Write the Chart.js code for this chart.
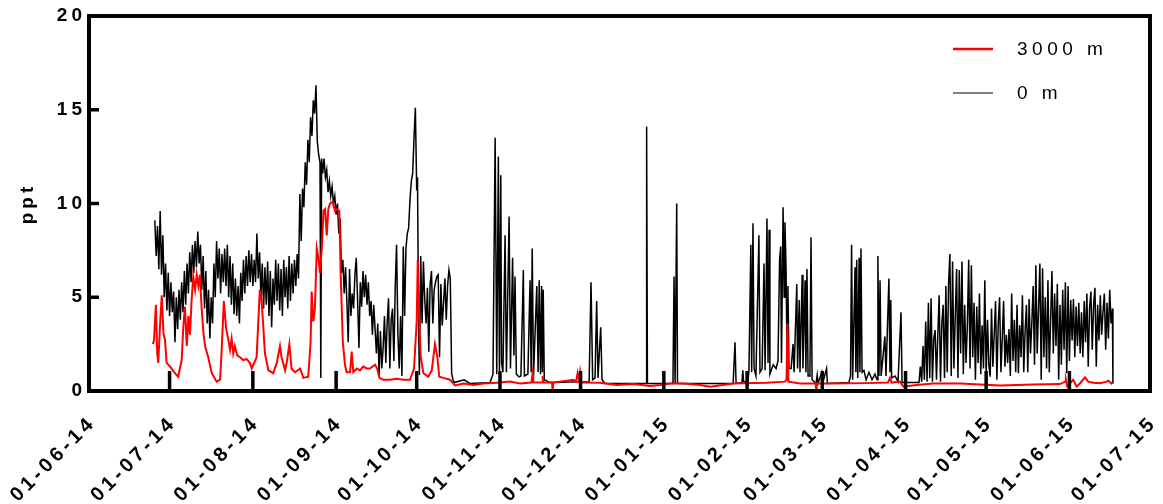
<!DOCTYPE html>
<html>
<head>
<meta charset="utf-8">
<script src="https://cdn.jsdelivr.net/npm/chart.js@4.4.1/dist/chart.umd.min.js"></script>
<style>
  html, body { margin: 0; padding: 0; background: #fff; }
  #chart { display: block; }
</style>
</head>
<body>
<canvas id="chart" width="1163" height="504"></canvas>
<script>
// x values are days since 01-06-14, y values in ppt
const tickDays = [0, 30, 61, 92, 122, 153, 183, 214, 245, 273, 304, 334, 365, 395];
const tickLabels = ['01-06-14', '01-07-14', '01-08-14', '01-09-14', '01-10-14', '01-11-14', '01-12-14',
    '01-01-15', '01-02-15', '01-03-15', '01-04-15', '01-05-15', '01-06-15', '01-07-15'];
const yTicks = [0, 5, 10, 15, 20];

// 0 m, June - October (dense)
const zeroSummer = [
    [24.5,9.1],[25,7.2],[25.5,8.8],[26,6.5],[26.5,9.6],[27,6.2],[27.5,8.3],[28,5.0],[28.5,6.8],[29,4.3],
    [29.5,6.3],[30,4.0],[30.5,5.8],[31,4.2],[31.5,5.3],[32,2.6],[32.5,5.0],[33,3.3],[33.5,5.4],[34,3.8],
    [34.5,5.8],[35,4.2],[35.5,6.4],[36,4.6],[36.5,6.8],[37,5.2],[37.5,7.4],[38,5.8],[38.5,7.8],[39,6.3],
    [39.5,8.0],[40,6.6],[40.5,8.5],[41,6.8],[41.5,7.8],[42,5.4],[42.5,7.2],[43,4.4],[43.5,6.4],[44,3.6],
    [44.5,5.4],[45,2.8],[45.5,5.0],[46,3.6],[46.5,6.8],[47,5.0],[47.5,8.0],[48,6.0],[48.5,7.6],[49,5.2],
    [49.5,7.3],[50,5.8],[50.5,7.6],[51,5.6],[51.5,7.8],[52,5.0],[52.5,7.2],[53,4.6],[53.5,6.8],[54,4.1],
    [54.5,6.0],[55,4.0],[55.5,5.6],[56,3.6],[56.5,6.3],[57,4.8],[57.5,7.0],[58,5.2],[58.5,7.2],[59,5.6],
    [59.5,7.5],[60,5.8],[60.5,7.3],[61,5.6],[61.5,7.0],[62,5.8],[62.5,8.4],[63,6.0],[63.5,7.4],[64,5.0],
    [64.5,6.8],[65,4.4],[65.5,6.6],[66,4.6],[66.5,6.9],[67,4.0],[67.5,6.4],[68,3.4],[68.5,6.0],[69,4.6],
    [69.5,7.0],[70,4.8],[70.5,6.8],[71,4.3],[71.5,6.5],[72,4.0],[72.5,7.0],[73,5.0],[73.5,6.6],[74,4.4],
    [74.5,7.2],[75,4.8],[75.5,6.8],[76,5.2],[76.5,7.0],[77,5.6],[77.5,7.3],[78,6.0],[78.5,10.5],[79,8.0],
    [79.5,10.8],[80,9.8],[80.5,12.2],[81,11.0],[81.5,13.4],[82,12.2],[82.5,14.6],[83,13.6],[83.5,15.5],[84,14.8],
    [84.5,16.3],[85,13.3],[85.5,12.6],[86,12.2],[86.3,0.7],[86.6,12.4],[87,11.6],[87.5,12.4],[88,11.4],[88.5,11.8],
    [89,10.6],[89.5,11.2],[90,10.4],[90.5,10.9],[91,10.0],[91.5,10.4],[92,9.4],[92.5,10.0],[93,8.4],[93.5,9.2],
    [94,6.3],[94.5,7.0],[95,5.2],[95.5,6.6],[96,4.8],[96.5,2.6],[97,6.5],[97.5,4.0],[98,5.2],[98.5,4.4],
    [99,6.2],[99.5,7.1],[100,4.8],[100.5,2.3],[101,5.8],[101.5,4.5],[102,6.4],[102.5,5.0],[103,6.2],[103.5,4.6],
    [104,5.8],[104.5,4.0],[105,4.8],[105.5,3.0],[106,4.6],[106.5,3.3],[107,2.0],[107.5,3.6],[108,0.85],[108.5,3.2],
    [109,1.2],[109.5,2.3],[110,4.0],[110.5,1.5],[111,3.6],[111.5,4.95],[112,1.2],[112.5,3.8],[113,4.4],[113.5,1.6],
    [114,5.5],[114.5,7.8],[115,3.0],[115.5,1.2],[116,4.0],[116.5,0.8],[117,7.7],[117.5,4.0],[118,7.6],[118.5,8.4],
    [119,8.7],[119.5,10.2],[120,11.2],[120.5,11.6],[121,13.5],[121.5,15.1],[122,10.7],[122.3,11.4],[122.7,3.6],[123,0.85],
    [123.5,7.2],[124,3.6],[124.5,6.9],[125,4.85],[125.5,3.6],[126,5.5],[126.5,2.1],[127,5.7],[127.5,6.4],[128,3.6],
    [128.5,5.4],[129,5.8],[129.5,6.1],[130,6.2],[130.5,1.8],[131,5.7],[131.5,3.5],[132,4.7],[132.5,6.0],[133,3.8],
    [133.5,5.6],[134,6.45],[134.5,6.0],[135,0.95],[135.5,0.6],[136,0.45]
];

// 0 m, November - March (isolated spikes)
const zeroWinter = [
    [139.6,0.6],[141.8,0.4],[149.3,0.45],[150.4,0.9],[151.2,13.5],[151.8,0.9],[152.4,12.5],[152.8,1.0],[153.3,11.5],
    [153.6,1.5],[154.1,1.0],[154.9,8.3],[155.4,1.0],[156.4,9.3],[156.9,1.2],[157.7,7.1],[158.2,1.9],[158.6,6.1],
    [159.1,0.9],[160.1,0.75],[160.8,0.8],[161.7,6.45],[162.1,0.8],[163.4,0.9],[164.2,5.9],[164.6,1.0],[165.0,7.6],
    [165.5,0.8],[166.7,5.6],[167.2,1.0],[167.6,5.9],[168.1,0.9],[168.5,5.6],[168.8,1.0],[169.1,5.4],[169.5,0.6],
    [171.6,0.45],[186.2,0.5],[186.9,5.8],[187.5,0.6],[188.4,0.7],[189.0,4.8],[189.5,0.7],[190.5,3.4],[191.0,0.6],
    [192.1,0.4],[207.4,0.4],[207.6,14.1],[207.9,0.4],[217.4,0.4],[217.8,6.1],[218.2,0.4],[218.8,10.0],[219.1,0.4],
    [239.8,0.4],[240.5,2.6],[240.9,0.4],[243.1,0.45],[243.4,1.1],[243.7,0.5],[245.3,0.5],[245.7,1.1],[246.4,7.8],
    [246.7,1.0],[247.2,8.95],[247.6,1.2],[248.3,0.8],[249.4,8.3],[249.8,1.0],[250.6,1.2],[251.3,6.8],[251.7,1.1],
    [252.4,9.2],[252.8,1.5],[253.2,8.6],[253.5,0.9],[254.7,1.4],[255.8,1.2],[256.5,1.6],[257.1,7.0],[257.5,7.7],
    [257.8,1.5],[258.4,9.8],[258.8,5.0],[259.1,9.0],[259.5,6.6],[259.9,1.5],[260.2,5.6],[260.6,1.2],[261.4,1.2],
    [262.1,2.5],[262.5,1.0],[263.5,5.7],[263.8,1.2],[264.4,4.85],[264.7,1.0],[265.5,6.2],[265.8,1.2],[266.6,5.9],
    [266.9,1.0],[267.3,6.5],[267.7,0.8],[268.4,0.8],[268.8,8.2],[269.2,0.6],[270.7,0.4],[271.1,0.85],[271.4,0.4],
    [272.8,1.0],[273.1,0.4],[274.6,1.2],[274.9,0.4],[282.9,0.45],[283.5,0.8],[283.9,7.8],[284.3,0.6],[285.2,6.6],
    [285.5,1.0],[285.8,7.0],[286.2,0.7],[286.7,7.1],[287.0,1.0],[287.4,7.6],[287.8,1.0],[288.5,1.1],[289.3,0.6],
    [290.4,1.0],[291.5,0.6],[292.6,0.9],[293.4,0.6],[293.7,7.2],[294.1,0.8],[294.5,5.9],[294.9,0.8],[296.3,2.9],
    [296.7,0.8],[297.8,6.0],[298.2,1.0],[298.5,4.85],[298.8,0.7],[300.1,0.8],[301.2,0.5],[302.3,4.2],[302.7,0.45],
    [308.6,0.45]
];

// 0 m, April - June (dense)
const zeroSpring = [
    [309,0.45],[309.5,1.3],[310,0.5],[310.5,2.4],[311,0.6],[311.5,3.7],[312,0.5],[312.5,4.7],[313,0.7],[313.5,4.95],
    [314,0.5],[314.5,2.8],[315,3.25],[315.5,0.6],[316,3.0],[316.5,5.1],[317,0.5],[317.5,3.6],[318,4.6],[318.5,0.7],
    [319,5.6],[319.5,1.0],[320,5.7],[320.5,7.3],[321,0.8],[321.5,6.9],[322,1.2],[322.5,4.0],[323,6.5],[323.5,0.7],
    [324,6.45],[324.5,2.0],[325,6.9],[325.5,0.9],[326,4.6],[326.5,1.5],[327,3.5],[327.5,7.0],[328,1.2],[328.5,6.7],
    [329,1.8],[329.5,4.7],[330,0.6],[330.5,4.5],[331,1.5],[331.5,5.2],[332,0.9],[332.5,3.5],[333,1.2],[333.5,5.9],
    [334,0.8],[334.5,3.8],[335,1.4],[335.5,0.76],[336,4.4],[336.5,1.3],[337,3.0],[337.5,4.8],[338,0.6],[338.5,3.6],
    [339,5.0],[339.5,1.0],[340,2.8],[340.5,4.8],[341,1.3],[341.5,3.0],[342,1.5],[342.5,3.3],[343,0.8],[343.5,5.2],
    [344,1.6],[344.5,3.8],[345,1.0],[345.5,4.6],[346,0.95],[346.5,3.5],[347,1.8],[347.5,5.1],[348,1.0],[348.5,3.2],
    [349,4.6],[349.5,1.0],[350,4.9],[350.5,2.0],[351,3.6],[351.5,5.6],[352,1.4],[352.5,6.7],[353,2.0],[353.5,4.4],
    [354,6.8],[354.5,0.6],[355,6.55],[355.5,1.8],[356,5.0],[356.5,1.2],[357,5.9],[357.5,1.0],[358,3.8],[358.5,6.4],
    [359,2.0],[359.5,5.2],[360,2.4],[360.5,5.7],[361,0.6],[361.5,4.6],[362,1.4],[362.5,5.4],[363,2.2],[363.5,5.8],
    [364,0.95],[364.5,5.6],[365,1.6],[365.5,4.85],[366,2.7],[366.5,4.9],[367,1.8],[367.5,4.5],[368,2.4],[368.5,4.7],
    [369,2.0],[369.5,4.2],[370,1.8],[370.5,4.8],[371,2.6],[371.5,5.2],[372,1.3],[372.5,4.4],[373,5.3],[373.5,2.2],
    [374,4.6],[374.5,5.5],[375,1.3],[375.5,4.6],[376,2.7],[376.5,5.1],[377,3.0],[377.5,4.2],[378,5.2],[378.5,2.2],
    [379,4.7],[379.5,2.8],[380,5.4],[380.5,3.6],[381,4.4],[381.2,0.4]
];

// 3000 m, June - October
const deepSummer = [
    [23.8,2.5],[24.2,2.7],[24.9,4.6],[25.4,2.0],[25.8,1.5],[26.4,3.4],[27.1,5.1],[27.7,3.1],[28.3,2.7],[28.9,1.5],
    [30.2,1.3],[32.0,0.95],[33.2,0.76],[34.5,1.65],[35.1,3.4],[35.7,4.5],[36.4,2.4],[37.0,4.0],[37.6,3.0],[38.2,4.85],
    [38.8,6.1],[39.5,5.4],[40.1,6.2],[40.7,5.6],[41.3,6.2],[41.9,4.5],[42.6,3.1],[43.2,2.4],[44.4,1.8],[45.7,0.95],
    [47.5,0.5],[48.8,0.6],[49.4,2.2],[50.2,4.8],[51.0,3.4],[51.9,2.7],[52.5,2.2],[53.1,2.8],[53.7,2.0],[54.3,2.4],
    [55.2,1.9],[56.2,1.8],[57.4,1.65],[58.7,1.7],[59.9,1.5],[60.6,1.2],[61.2,1.4],[62.4,1.8],[63.0,3.6],[63.6,5.4],
    [64.3,4.7],[64.9,3.4],[65.5,2.0],[66.8,1.1],[68.6,0.95],[69.9,1.5],[71.1,2.4],[71.7,1.8],[73.0,1.1],[73.7,1.6],
    [74.6,2.5],[75.4,1.2],[76.7,1.0],[78.6,1.2],[79.8,0.7],[81.6,0.76],[82.5,2.6],[82.9,5.3],[83.5,3.7],[84.1,4.4],
    [84.8,7.6],[85.4,7.1],[86.0,6.3],[86.7,7.7],[87.3,9.6],[87.9,9.7],[88.5,8.3],[89.1,9.7],[89.7,10.0],[90.7,10.1],
    [91.6,9.6],[92.2,9.7],[93.2,9.6],[93.7,6.2],[94.5,2.6],[95.3,1.4],[95.9,1.0],[97.2,1.0],[97.8,2.1],[98.4,1.0],
    [99.7,1.2],[100.9,1.1],[102.1,1.3],[103.4,1.2],[104.6,1.2],[106.5,1.4],[107.3,1.2],[108.1,0.7],[109.5,0.6],
    [112.1,0.6],[114.6,0.65],[117.0,0.6],[119.5,0.6],[121.0,1.2],[122.0,3.7],[122.4,7.0],[123.0,3.6],[123.5,1.8],
    [124.5,0.95],[126.3,0.76],[127.6,1.1],[128.2,1.8],[128.8,2.5],[129.7,1.8],[130.4,0.76],[131.9,0.7],[134.4,0.6]
];

// 3000 m, October - June
const deepRest = [
    [136.3,0.3],[139.4,0.4],[143.1,0.32],[146.8,0.4],[151.8,0.44],[156.7,0.5],[160.5,0.4],[164.7,0.45],[165.2,1.0],
    [165.5,0.45],[168.7,0.45],[168.9,0.8],[169.2,0.45],[172.4,0.45],[172.6,0],[172.9,0.45],[180.3,0.6],[181.3,0.5],
    [181.9,0.95],[182.4,0.6],[182.8,1.0],[183.2,0.45],[190.2,0.44],[196.5,0.32],[202.6,0.37],[208.9,0.27],[212.6,0.32],
    [216.3,0.4],[221.3,0.4],[227.5,0.32],[231.2,0.23],[239.9,0.4],[252.3,0.44],[259.1,0.5],[259.7,0.6],[260.0,3.6],
    [260.4,0.5],[264.7,0.4],[270.5,0.4],[270.7,0],[270.9,0.4],[277.1,0.4],[289.5,0.42],[297.4,0.45],[298.2,0.7],
    [298.8,0.45],[301.9,0.5],[303.2,0.23],[308.1,0.32],[314.3,0.4],[324.3,0.4],[339.2,0.3],[351.5,0.35],[361.5,0.37],
    [363.4,0.5],[363.7,0.6],[364.2,0.25],[366.4,0.6],[367.7,0.23],[368.9,0.4],[370.8,0.73],[372.0,0.5],[373.9,0.44],
    [376.4,0.42],[378.9,0.5],[379.5,0.55],[380.7,0.4],[381.0,0.45]
];

const toPoints = (rows) => rows.map(([x, y]) => ({ x: x, y: y }));

const FONT = 'Liberation Sans, Arial, sans-serif';

// Frame, inward tick marks and letter spacing for the text
const framePlugin = {
    id: 'frame',
    beforeDraw(chart) {
        chart.ctx.letterSpacing = '4px';
    },
    afterDatasetsDraw(chart) {
        const { ctx, chartArea: a, scales } = chart;
        ctx.save();
        ctx.strokeStyle = '#000';
        ctx.lineWidth = 3.5;
        ctx.beginPath();
        yTicks.forEach((v) => {
            const y = scales.y.getPixelForValue(v);
            ctx.moveTo(a.left, y);
            ctx.lineTo(a.left + 10, y);
        });
        tickDays.forEach((d) => {
            const x = scales.x.getPixelForValue(d);
            ctx.moveTo(x, a.bottom);
            ctx.lineTo(x, a.bottom - 20);
        });
        ctx.stroke();
        ctx.lineWidth = 4;
        ctx.strokeRect(a.left, a.top, a.right - a.left, a.bottom - a.top);
        ctx.restore();
    },
};

// Legend drawn in the top right corner of the plot
const legendPlugin = {
    id: 'cornerLegend',
    afterDraw(chart) {
        const ctx = chart.ctx;
        ctx.save();
        ctx.letterSpacing = '4.5px';
        ctx.font = '19px ' + FONT;
        ctx.textBaseline = 'middle';
        ctx.textAlign = 'left';
        chart.data.datasets.forEach((ds, i) => {
            const y = 49 + i * 44;
            ctx.strokeStyle = ds.borderColor;
            ctx.lineWidth = i === 0 ? 2.5 : 1.2;
            ctx.beginPath();
            ctx.moveTo(953, y);
            ctx.lineTo(993, y);
            ctx.stroke();
            ctx.fillStyle = '#000';
            ctx.fillText(ds.label, 1017, y + 1);
        });
        ctx.restore();
    },
};

new Chart(document.getElementById('chart'), {
    type: 'line',
    data: {
        datasets: [
            {
                label: '3000 m',
                data: toPoints(deepSummer.concat(deepRest)),
                borderColor: '#ff0000',
                borderWidth: 2,
                pointRadius: 0,
                tension: 0,
            },
            {
                label: '0 m',
                data: toPoints(zeroSummer.concat(zeroWinter, zeroSpring)),
                borderColor: '#000000',
                borderWidth: 1.5,
                pointRadius: 0,
                tension: 0,
            },
        ],
    },
    options: {
        responsive: false,
        animation: false,
        devicePixelRatio: 1,
        layout: { padding: { top: 16, right: 13, left: 0, bottom: 0 } },
        plugins: {
            legend: { display: false },
            tooltip: { enabled: false },
        },
        scales: {
            x: {
                type: 'linear',
                min: 0,
                max: 395,
                grid: { display: false, drawTicks: false },
                border: { display: false },
                afterBuildTicks: (axis) => {
                    axis.ticks = tickDays.map((v) => ({ value: v }));
                },
                afterFit: (axis) => {
                    axis.height = 113;
                    axis.paddingLeft = 0;
                    axis.paddingRight = 0;
                },
                ticks: {
                    autoSkip: false,
                    minRotation: 45,
                    maxRotation: 45,
                    padding: 20,
                    labelOffset: 4,
                    color: '#000',
                    font: { family: FONT, size: 20, weight: 'bold' },
                    callback: (value) => tickLabels[tickDays.indexOf(value)],
                },
            },
            y: {
                min: 0,
                max: 20,
                grid: { display: false, drawTicks: false },
                border: { display: false },
                afterFit: (axis) => {
                    axis.width = 89;
                    axis.paddingTop = 0;
                    axis.paddingBottom = 0;
                },
                ticks: {
                    stepSize: 5,
                    padding: 3,
                    color: '#000',
                    font: { family: FONT, size: 19, weight: 'bold' },
                },
                title: {
                    display: true,
                    text: 'ppt',
                    color: '#000',
                    padding: { top: 16, bottom: 0 },
                    font: { family: FONT, size: 19, weight: 'bold' },
                },
            },
        },
    },
    plugins: [framePlugin, legendPlugin],
});
</script>
</body>
</html>
